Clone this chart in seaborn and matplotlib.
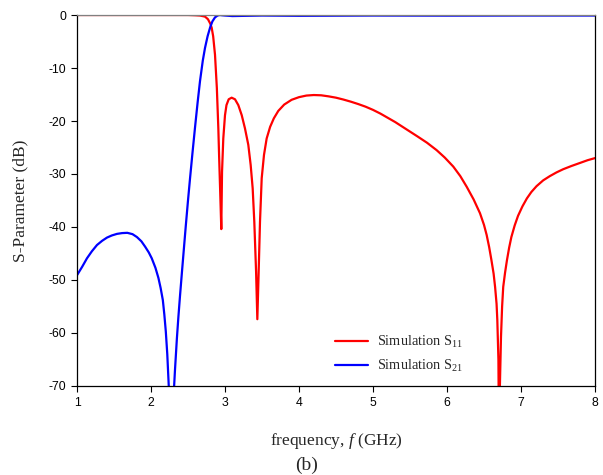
import numpy as np
import pandas as pd
import matplotlib
matplotlib.use("Agg")
import matplotlib.pyplot as plt
import seaborn as sns

# ---------------------------------------------------------
# Data
# ---------------------------------------------------------
# S11 (red)
freq_s11 = [1.0, 1.5, 2.0, 2.3, 2.5, 2.6, 2.66, 2.73, 2.77, 2.8, 2.82, 2.84, 2.865,
            2.89, 2.91, 2.92, 2.935, 2.95, 2.96, 2.977, 3.0, 3.02, 3.05, 3.09, 3.135,
            3.18, 3.226, 3.27, 3.315, 3.347, 3.374, 3.396, 3.42, 3.437, 3.455, 3.473,
            3.496, 3.527, 3.563, 3.61, 3.66, 3.72, 3.8, 3.9, 4.0, 4.1, 4.2, 4.3, 4.4,
            4.5, 4.6, 4.7, 4.8, 4.9, 5.0, 5.1, 5.2, 5.3, 5.4, 5.5, 5.6, 5.73, 5.86,
            5.97, 6.085, 6.18, 6.266, 6.36, 6.446, 6.5, 6.536, 6.57, 6.6, 6.63, 6.65,
            6.67, 6.68, 6.695, 6.705, 6.715, 6.73, 6.745, 6.76, 6.785, 6.81, 6.84,
            6.87, 6.915, 6.96, 7.02, 7.08, 7.14, 7.21, 7.3, 7.39, 7.48, 7.57, 7.68,
            7.8, 7.9, 8.0]
s11_db = [0.0, 0.0, 0.0, 0.0, 0.0, -0.05, -0.1, -0.3, -0.8, -1.6, -2.4, -4.0, -7.5,
          -13.8, -21.4, -26.4, -33.3, -40.4, -29.6, -23.3, -18.9, -17.0, -15.9, -15.6, -15.9,
          -17.0, -18.9, -21.4, -24.5, -28.3, -32.7, -39.0, -48.4, -57.4, -48.4, -39.0,
          -30.8, -26.4, -23.3, -21.1, -19.5, -18.1, -16.9, -16.0, -15.5, -15.2, -15.1, -15.15, -15.35,
          -15.6, -15.95, -16.35, -16.8, -17.3, -17.9, -18.6, -19.4, -20.2, -21.1, -22.0, -22.9, -24.1, -25.5,
          -26.9, -28.6, -30.4, -32.4, -34.8, -37.4, -39.6, -41.5, -43.8, -46.2, -48.8, -51.3,
          -54.5, -57.5, -65.0, -85.0, -70.0, -60.7, -55.0, -51.3, -48.6, -46.3, -43.9,
          -41.9, -39.7, -37.9, -36.1, -34.6, -33.4, -32.3, -31.2, -30.4, -29.7, -29.1, -28.5,
          -27.9, -27.4, -27.0]

# S21 (blue)
freq_s21 = [1.0, 1.07, 1.135, 1.2, 1.27, 1.34, 1.405, 1.47, 1.54, 1.61, 1.68, 1.75,
            1.81, 1.87, 1.92, 1.97, 2.01, 2.06, 2.1, 2.13, 2.16, 2.18, 2.2, 2.22,
            2.24, 2.27, 2.305, 2.324, 2.35, 2.37, 2.392, 2.42, 2.445, 2.47, 2.5,
            2.527, 2.56, 2.595, 2.63, 2.662, 2.7, 2.73, 2.765, 2.8, 2.83, 2.865,
            2.9, 2.93, 2.96, 3.0, 3.1, 3.3, 3.5, 4.0, 5.0, 6.0, 7.0, 8.0]
s21_db = [-49.1, -47.5, -45.9, -44.6, -43.4, -42.6, -42.0, -41.6, -41.3, -41.15, -41.1, -41.35,
          -41.9, -42.7, -43.7, -44.8, -45.9, -47.7, -49.6, -51.5, -53.8, -56.5, -59.7, -64.0,
          -70.0, -90.0, -72.0, -67.0, -61.0, -57.0, -53.0, -48.2, -44.0, -39.8, -35.0,
          -30.9, -26.1, -21.2, -16.5, -12.5, -8.6, -6.2, -4.0, -2.3, -1.2, -0.45,
          -0.1, 0.0, -0.05, -0.1, -0.2, -0.15, -0.1, -0.15, -0.1, -0.12, -0.1, -0.1]

x_ticks = [1, 2, 3, 4, 5, 6, 7, 8]
y_ticks = [0, -10, -20, -30, -40, -50, -60, -70]

df = pd.concat([
    pd.DataFrame({"f": freq_s11, "dB": s11_db, "trace": "Simulation S$_{11}$"}),
    pd.DataFrame({"f": freq_s21, "dB": s21_db, "trace": "Simulation S$_{21}$"}),
])

# ---------------------------------------------------------
# Plot
# ---------------------------------------------------------
sns.set_style("ticks")
plt.rcParams["font.family"] = ["Liberation Sans", "DejaVu Sans"]
plt.rcParams["axes.unicode_minus"] = False
plt.rcParams["mathtext.fontset"] = "custom"
plt.rcParams["mathtext.rm"] = "Liberation Serif"
plt.rcParams["mathtext.it"] = "Liberation Serif:italic"

fig = plt.figure(figsize=(6.03, 4.75), dpi=100)
ax = fig.add_axes([0.1277, 0.1874, 0.859, 0.781])

sns.lineplot(data=df, x="f", y="dB", hue="trace", sort=False,
             palette=["#ff0000", "#0000ff"], linewidth=1.6, ax=ax)

ax.set_xlim(1, 8)
ax.set_ylim(-70, 0)
ax.set_xticks(x_ticks)
ax.set_yticks(y_ticks)
ax.tick_params(axis="both", direction="out", length=4, width=0.8,
               labelsize=8.8, colors="black", pad=4)
ax.tick_params(top=False, right=False)

for side in ["left", "bottom", "right"]:
    ax.spines[side].set_color("black")
    ax.spines[side].set_linewidth(0.9)
ax.spines["top"].set_visible(True)
ax.spines["top"].set_color("#808080")
ax.spines["top"].set_linewidth(0.9)

serif = ["Liberation Serif", "DejaVu Serif"]
ax.set_ylabel("S-Parameter (dB)", family=serif, fontsize=12.5, labelpad=14)
ax.set_xlabel("frequency, $f$ (GHz)", family=serif, fontsize=12.5, labelpad=16)
fig.text(0.509, 0.01, "(b)", family=serif, fontsize=14, ha="center")

leg = ax.legend(loc="upper left", bbox_to_anchor=(0.498, 0.141), frameon=False,
                borderpad=0, borderaxespad=0, handlelength=2.3, handletextpad=0.6,
                labelspacing=0.55, title=None,
                prop={"family": serif, "size": 10.4})

fig.savefig("out.png", dpi=100)
